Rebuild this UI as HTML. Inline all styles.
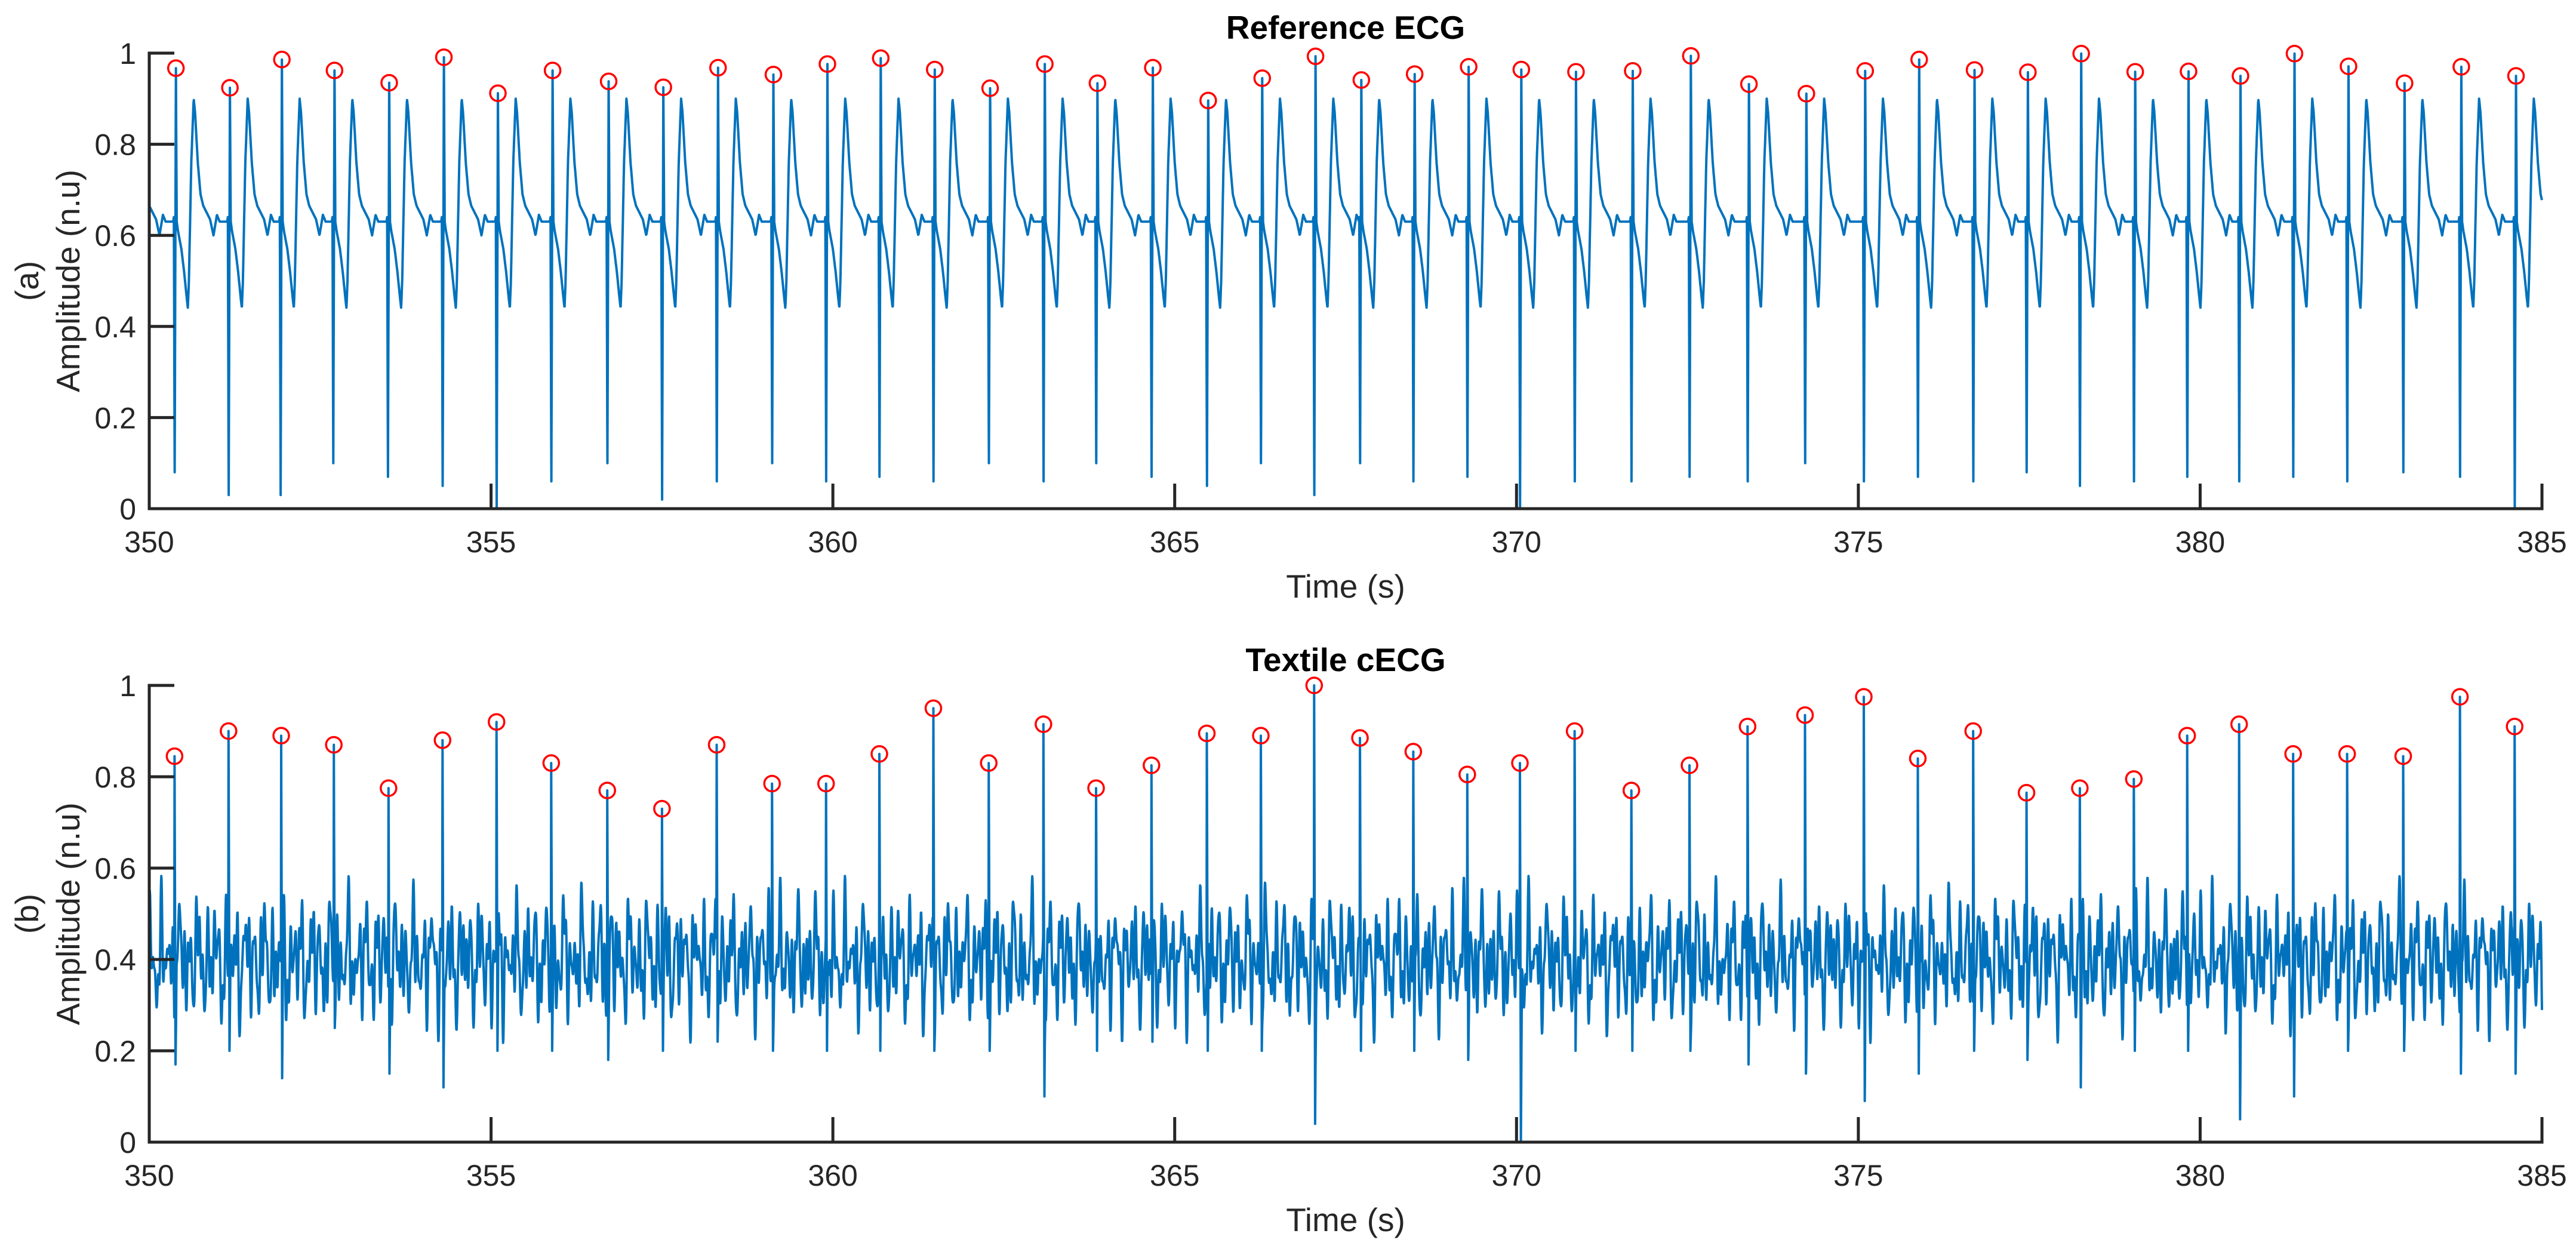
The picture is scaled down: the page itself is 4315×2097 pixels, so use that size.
<!DOCTYPE html>
<html><head><meta charset="utf-8"><title>ECG comparison</title>
<style>html,body{margin:0;padding:0;background:#fff}svg{display:block}
text{font-family:"Liberation Sans",Arial,sans-serif;fill:#262626}</style></head>
<body>
<svg id="chart" width="4315" height="2097" viewBox="0 0 4315 2097" xmlns="http://www.w3.org/2000/svg">
<rect width="4315" height="2097" fill="#fff"/>
</svg>
<script>
// ---- data ----
const xTicks = [350,355,360,365,370,375,380,385];
const yTicks = [0,0.2,0.4,0.6,0.8,1];
const yTickLabels = ["0","0.2","0.4","0.6","0.8","1"];
const refPeakTimes = [350.39,351.18,351.94,352.71,353.51,354.31,355.10,355.90,356.72,357.52,358.32,359.13,359.92,360.70,361.49,362.30,363.10,363.87,364.68,365.49,366.28,367.06,367.73,368.51,369.30,370.07,370.87,371.70,372.55,373.40,374.24,375.10,375.89,376.70,377.48,378.26,379.05,379.83,380.59,381.38,382.17,382.99,383.82,384.62];
const refPeakAmps = [0.967,0.924,0.986,0.962,0.935,0.991,0.912,0.962,0.938,0.925,0.968,0.953,0.976,0.989,0.964,0.923,0.976,0.934,0.968,0.896,0.945,0.993,0.941,0.954,0.970,0.964,0.959,0.961,0.994,0.932,0.911,0.961,0.986,0.963,0.958,0.999,0.959,0.960,0.950,0.999,0.971,0.934,0.970,0.950];
const refQDepth = [0.08,0.03,0.03,0.10,0.07,0.05,0.00,0.06,0.10,0.02,0.06,0.10,0.06,0.07,0.06,0.10,0.06,0.10,0.07,0.05,0.10,0.03,0.10,0.06,0.07,0.00,0.06,0.06,0.07,0.06,0.10,0.06,0.07,0.06,0.08,0.05,0.06,0.07,0.06,0.07,0.06,0.08,0.07,0.00];
const texPeakTimes = [350.37,351.16,351.93,352.70,353.50,354.29,355.08,355.88,356.70,357.50,358.30,359.11,359.90,360.68,361.47,362.28,363.08,363.85,364.66,365.47,366.26,367.04,367.71,368.49,369.28,370.05,370.85,371.68,372.53,373.38,374.22,375.08,375.87,376.68,377.46,378.24,379.03,379.81,380.57,381.36,382.15,382.97,383.80,384.60];
const texPeakAmps = [0.845,0.90,0.89,0.87,0.775,0.88,0.92,0.83,0.77,0.73,0.87,0.785,0.785,0.85,0.95,0.83,0.915,0.775,0.825,0.895,0.89,1.0,0.885,0.855,0.805,0.83,0.90,0.77,0.825,0.91,0.935,0.975,0.84,0.90,0.765,0.775,0.795,0.89,0.915,0.85,0.85,0.845,0.975,0.91];
const texDipDepth = [0.17,0.20,0.14,0.25,0.15,0.12,0.20,0.20,0.18,0.20,0.22,0.20,0.20,0.20,0.20,0.20,0.10,0.20,0.22,0.20,0.20,0.04,0.20,0.20,0.18,0.00,0.20,0.20,0.20,0.17,0.15,0.09,0.15,0.20,0.18,0.12,0.20,0.20,0.05,0.10,0.20,0.20,0.15,0.15];

const NS = "http://www.w3.org/2000/svg";
const svg = document.getElementById('chart');
const X0 = 250, X1 = 4258, T0 = 350, T1 = 385;
function xs(t){ return X0 + (t - T0) / (T1 - T0) * (X1 - X0); }
function mk(tag, attrs, parent){ const e = document.createElementNS(NS, tag); for (const k in attrs) e.setAttribute(k, attrs[k]); (parent||svg).appendChild(e); return e; }
function interp(knots, d){
  for (let i = 0; i < knots.length - 1; i++){
    if (d >= knots[i][0] && d <= knots[i+1][0]){
      const f = (d - knots[i][0]) / (knots[i+1][0] - knots[i][0]);
      return knots[i][1] + f * (knots[i+1][1] - knots[i][1]);
    }
  }
  return null;
}
function sampleTimes(peaks, offsets){
  const FS = 250, arr = [];
  for (let n = 0; n <= (T1 - T0) * FS; n++) arr.push(T0 + n / FS);
  peaks.forEach(p => offsets.forEach(o => { const t = p + o; if (t >= T0 && t <= T1) arr.push(t); }));
  arr.sort((a, b) => a - b);
  return arr;
}

function drawPanel(top, bottom, title, tag, labelA, buildSignal, peakT, peakA){
  const ys = v => bottom - v * (bottom - top);
  const g = mk('g', {});
  
  
  const pts = buildSignal();
  let d = '';
  for (let i = 0; i < pts.length; i++) d += (i ? 'L' : 'M') + xs(pts[i][0]).toFixed(1) + ' ' + ys(pts[i][1]).toFixed(1);
  const line = mk('path', {d: d, fill: 'none', stroke: '#0072BD', 'stroke-width': 4, 'stroke-linejoin': 'round'}, g);
  
  
  for (let i = 0; i < peakT.length; i++){
    const c = mk('circle', {cx: xs(peakT[i]), cy: ys(peakA[i]), r: 13, fill: 'none', stroke: '#ff0000', 'stroke-width': 3.5}, g);
    
    
  }
  const ax = mk('path', {d: `M${X0} ${top}V${bottom}H${X1}`, fill: 'none', stroke: '#262626', 'stroke-width': 5, 'stroke-linecap': 'square'}, g);
  
  
  xTicks.forEach(t => {
    const tk = mk('line', {x1: xs(t), x2: xs(t), y1: bottom, y2: bottom - 42, stroke: '#262626', 'stroke-width': 5}, g);
    
    
    const tl = mk('text', {x: xs(t), y: bottom + 73, 'font-size': 50, 'text-anchor': 'middle'}, g);
    
    
    tl.textContent = String(t);
  });
  yTicks.forEach((v, i) => {
    const tk = mk('line', {x1: X0, x2: X0 + 42, y1: ys(v), y2: ys(v), stroke: '#262626', 'stroke-width': 5}, g);
    
    
    const tl = mk('text', {x: 228, y: ys(v) + 18, 'font-size': 50, 'text-anchor': 'end'}, g);
    
    
    tl.textContent = yTickLabels[i];
  });
  const tt = mk('text', {x: 2254, y: top - 24, 'font-size': 55, 'font-weight': 'bold', 'text-anchor': 'middle', style: 'fill:#000'}, g);
  
  
  tt.textContent = title;
  const xl = mk('text', {x: 2254, y: bottom + 149, 'font-size': 55, 'text-anchor': 'middle'}, g);
  
  
  xl.textContent = 'Time (s)';
  const mid = (top + bottom) / 2;
  const yl = mk('text', {x: 0, y: 0, 'font-size': 55, 'text-anchor': 'middle', 'dominant-baseline': 'central', transform: `translate(114 ${mid}) rotate(-90)`}, g);
  
  
  yl.textContent = 'Amplitude (n.u)';
  const pl = mk('text', {x: 0, y: 0, 'font-size': 55, 'text-anchor': 'middle', 'dominant-baseline': 'central', transform: `translate(45 ${mid}) rotate(-90)`}, g);
  
  
  pl.textContent = labelA;
}

function refSignal(){
  const pts = [];
  const times = sampleTimes(refPeakTimes, [-0.03,-0.018,0,0.012]);
  times.forEach(t => {
    let k = -1;
    for (let i = 0; i < refPeakTimes.length; i++) if (refPeakTimes[i] - 0.04 <= t) k = i;
    const prevT = k >= 0 ? refPeakTimes[k] : refPeakTimes[0] - 0.79;
    const amp = k >= 0 ? refPeakAmps[k] : 0.95;
    const q = k >= 0 ? refQDepth[k] : 0.08;
    const dt = t - prevT;
    const knots = [[-0.04,0.63],[-0.03,0.64],[-0.018,q],[0,amp],[0.012,0.63],[0.03,0.61],[0.08,0.57],[0.12,0.52],[0.16,0.46],[0.175,0.44],[0.19,0.5],[0.225,0.76],[0.26,0.9],[0.28,0.87],[0.32,0.76],[0.36,0.69],[0.4,0.665],[0.45,0.65],[0.5,0.635],[0.55,0.6],[0.6,0.645],[0.64,0.63],[2,0.63]];
    let v = interp(knots, dt);
    if (v === null) v = 0.63;
    pts.push([t, v]);
  });
  return pts;
}
function texSignal(){
  const pts = [];
  const times = sampleTimes(texPeakTimes, [-0.004,0,0.014]);
  times.forEach(t => {
    let v = 0.4 + 0.055*Math.sin(2*Math.PI*7.3*t) + 0.045*Math.sin(2*Math.PI*11.7*t + 1.3) + 0.04*Math.sin(2*Math.PI*17.9*t + 0.4) + 0.035*Math.sin(2*Math.PI*4.1*t + 2.2) + 0.03*Math.sin(2*Math.PI*23.3*t + 0.9);
    for (let i = 0; i < texPeakTimes.length; i++){
      const dt = t - texPeakTimes[i];
      if (dt > -0.02 && dt < 0.04){
        const s = interp([[-0.02,v],[-0.004,v],[0,texPeakAmps[i]],[0.014,texDipDepth[i]],[0.03,v],[0.04,v]], dt);
        if (s !== null) v = s;
      }
    }
    pts.push([t, v]);
  });
  return pts;
}
drawPanel(89, 852, 'Reference ECG', 'reference', '(a)', refSignal, refPeakTimes, refPeakAmps);
drawPanel(1148, 1913, 'Textile cECG', 'textile', '(b)', texSignal, texPeakTimes, texPeakAmps);
</script>
</body></html>
